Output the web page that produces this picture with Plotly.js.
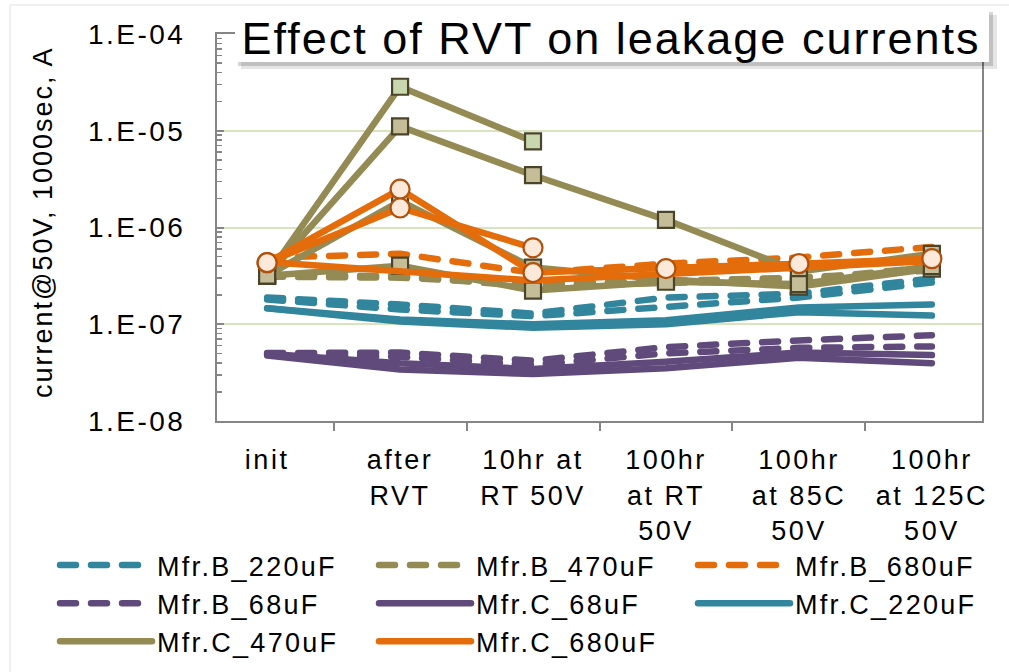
<!DOCTYPE html>
<html>
<head>
<meta charset="utf-8">
<script src="https://cdn.plot.ly/plotly-3.0.1.min.js"></script>
<style>
  html, body { margin: 0; padding: 0; background: #ffffff; }
  #chart { width: 1009px; height: 672px; }
  .js-line, .legendlines path { stroke-linecap: round; stroke-linejoin: round; }
  .gtitle { letter-spacing: 2px; }
  .xtick text, .ytick text { letter-spacing: 2.5px; }
  .legendtext { letter-spacing: 2.3px; }
  .annotation-text { letter-spacing: 2px; }
</style>
</head>
<body>
<div id="chart"></div>
<script>
// ---------- data ----------
const categories = ["init", "after<br>RVT", "10hr at<br>RT 50V", "100hr<br>at RT<br>50V", "100hr<br>at 85C<br>50V", "100hr<br>at 125C<br>50V"];
const yTickVals = [1e-8, 1e-7, 1e-6, 1e-5, 1e-4];
const yTickText = ["1.E-08", "1.E-07", "1.E-06", "1.E-05", "1.E-04"];

// Mfr.B_220uF (dashed)
const B220_1 = [1.89e-7, 1.60e-7, 1.29e-7, 1.89e-7, 2.07e-7, 2.98e-7];
const B220_2 = [1.80e-7, 1.42e-7, 1.21e-7, 1.49e-7, 1.89e-7, 2.70e-7];
// Mfr.B_470uF (dashed)
const B470_1 = [3.10e-7, 3.03e-7, 2.60e-7, 2.83e-7, 3.03e-7, 3.60e-7];
const B470_2 = [3.25e-7, 3.15e-7, 2.45e-7, 2.70e-7, 2.90e-7, 3.90e-7];
// Mfr.B_680uF (dashed)
const B680_1 = [4.87e-7, 5.35e-7, 3.40e-7, 4.23e-7, 4.90e-7, 6.30e-7];
// Mfr.B_68uF (dashed)
const B68_1 = [5.03e-8, 5.10e-8, 4.20e-8, 5.80e-8, 6.80e-8, 7.70e-8];
const B68_2 = [4.90e-8, 4.60e-8, 3.80e-8, 5.00e-8, 5.70e-8, 5.90e-8];
// Mfr.C_68uF (solid)
const C68_1 = [4.95e-8, 3.96e-8, 3.44e-8, 4.10e-8, 5.10e-8, 4.80e-8];
const C68_2 = [4.75e-8, 3.40e-8, 3.06e-8, 3.50e-8, 4.50e-8, 3.96e-8];
// Mfr.C_220uF (solid)
const C220_1 = [1.46e-7, 1.12e-7, 1.00e-7, 1.10e-7, 1.49e-7, 1.60e-7];
const C220_2 = [1.46e-7, 1.07e-7, 9.20e-8, 1.00e-7, 1.33e-7, 1.23e-7];
// Mfr.C_470uF (solid, square markers)
const C470_1 = [3.18e-7, 2.85e-5, 7.76e-6, null, null, null];
const C470_2 = [3.18e-7, 1.11e-5, 3.47e-6, 1.20e-6, 3.50e-7, 5.35e-7];
const C470_3 = [3.18e-7, 1.88e-6, 3.85e-7, 2.90e-7, 2.45e-7, 3.76e-7];
const C470_4 = [3.18e-7, 4.03e-7, 2.23e-7, 2.75e-7, 2.60e-7, 4.00e-7];
// Mfr.C_680uF (solid, circle markers)
const C680_1 = [4.33e-7, 2.49e-6, 3.42e-7, 3.76e-7, 4.23e-7, 4.76e-7];
const C680_2 = [4.33e-7, 1.59e-6, 6.17e-7, null, null, null];
const C680_3 = [4.40e-7, null, 2.83e-7, 3.30e-7, 3.90e-7, 4.50e-7];

// ---------- styles ----------
const TEAL = "#31859C", OLIVE = "#948A54", ORANGE = "#E46C0A", PURPLE = "#604A7B";
const DASH = "16px,15px";
const LW = 6.5;
const FONT = "Liberation Sans, Arial, sans-serif";

function line(y, name, color, dash, show) {
  return {
    type: "scatter", mode: "lines", x: categories, y: y, name: name,
    showlegend: !!show, connectgaps: true,
    line: { color: color, width: LW, dash: dash || "solid" },
    hoverinfo: "skip"
  };
}
function marks(y, symbol, fill, edge, size) {
  return {
    type: "scatter", mode: "markers", x: categories, y: y, showlegend: false,
    marker: { symbol: symbol, size: size, color: fill, line: { color: edge, width: 2.2 } },
    hoverinfo: "skip"
  };
}

const SQ_EDGE = "#4A452A", SQ_TAN = "#C4BD97", SQ_GREEN = "#C9D7AE";
const CI_EDGE = "#B0500C", CI_FILL = "#FDE9D9";

const traces = [
  line(B220_1, "Mfr.B_220uF", TEAL, DASH, true),
  line(B220_2, "Mfr.B_220uF", TEAL, DASH),
  line(B470_1, "Mfr.B_470uF", OLIVE, DASH, true),
  line(B470_2, "Mfr.B_470uF", OLIVE, DASH),
  line(B680_1, "Mfr.B_680uF", ORANGE, DASH, true),
  line(B68_1, "Mfr.B_68uF", PURPLE, DASH, true),
  line(B68_2, "Mfr.B_68uF", PURPLE, DASH),
  line(C68_1, "Mfr.C_68uF", PURPLE, "solid", true),
  line(C68_2, "Mfr.C_68uF", PURPLE, "solid"),
  line(C220_1, "Mfr.C_220uF", TEAL, "solid", true),
  line(C220_2, "Mfr.C_220uF", TEAL, "solid"),
  line(C470_1, "Mfr.C_470uF", OLIVE, "solid", true),
  marks(C470_1, "square", SQ_GREEN, SQ_EDGE, 16),
  line(C470_2, "Mfr.C_470uF", OLIVE, "solid"),
  marks(C470_2, "square", SQ_TAN, SQ_EDGE, 16),
  line(C470_3, "Mfr.C_470uF", OLIVE, "solid"),
  marks(C470_3, "square", SQ_TAN, SQ_EDGE, 16),
  line(C470_4, "Mfr.C_470uF", OLIVE, "solid"),
  marks(C470_4, "square", SQ_TAN, SQ_EDGE, 16),
  line(C680_3, "Mfr.C_680uF", ORANGE, "solid"),
  line(C680_1, "Mfr.C_680uF", ORANGE, "solid", true),
  marks(C680_1, "circle", CI_FILL, CI_EDGE, 19),
  line(C680_2, "Mfr.C_680uF", ORANGE, "solid"),
  marks(C680_2, "circle", CI_FILL, CI_EDGE, 19)
];

const L = 217, R = 982, T = 34, B = 421;
const px = v => (v - L) / (R - L);
const py = v => (B - v) / (B - T);

const layout = {
  width: 1009, height: 672,
  margin: { l: L, r: 1009 - R, t: T, b: 672 - B, pad: 0, autoexpand: false },
  paper_bgcolor: "#ffffff", plot_bgcolor: "#ffffff",
  font: { family: FONT, color: "#000000", size: 26 },
  showlegend: true,
  title: {
    text: "Effect of RVT on leakage currents",
    font: { family: FONT, size: 45, color: "#000000" },
    x: 611 / 1009, xanchor: "center", xref: "container",
    y: 1 - 38 / 672, yanchor: "middle", yref: "container"
  },
  xaxis: {
    type: "category", categoryorder: "array", categoryarray: categories,
    showline: true, linecolor: "#868686", linewidth: 2, mirror: true,
    ticks: "outside", tickson: "boundaries", ticklen: 8, tickwidth: 2, tickcolor: "#868686",
    showgrid: false, zeroline: false,
    tickfont: { family: FONT, size: 27, color: "#000000" },
    ticklabelstandoff: 14
  },
  yaxis: {
    type: "log", range: [-8, -4],
    tickmode: "array", tickvals: yTickVals, ticktext: yTickText,
    showline: true, linecolor: "#868686", linewidth: 2, mirror: true,
    ticks: "inside", ticklen: 7, tickwidth: 2, tickcolor: "#868686",
    showgrid: true, gridcolor: "#D7E4BD", gridwidth: 2, zeroline: false,
    minor: { ticks: "inside", ticklen: 5, tickwidth: 1.5, tickcolor: "#868686", showgrid: false, dtick: "D1" },
    tickfont: { family: FONT, size: 28, color: "#000000" },
    ticklabelstandoff: 24
  },
  legend: {
    orientation: "h", xref: "paper", yref: "paper",
    x: px(55), xanchor: "left", y: py(541), yanchor: "top",
    entrywidth: 212, entrywidthmode: "pixels", itemwidth: 92,
    font: { family: FONT, size: 27, color: "#000000" },
    bgcolor: "rgba(0,0,0,0)", traceorder: "normal"
  },
  shapes: [
    { type: "line", xref: "paper", yref: "paper", layer: "below",
      x0: px(10), x1: px(10), y0: py(5), y1: py(700), line: { color: "#EBEBEB", width: 1.5 } },
    { type: "line", xref: "paper", yref: "paper", layer: "below",
      x0: px(10), x1: px(1012), y0: py(5), y1: py(5), line: { color: "#EBEBEB", width: 1.5 } },
    { type: "rect", xref: "paper", yref: "paper", layer: "above",
      x0: px(241), x1: px(997), y0: py(69), y1: py(15),
      fillcolor: "rgba(0,0,0,0.10)", line: { width: 0 } },
    { type: "rect", xref: "paper", yref: "paper", layer: "above",
      x0: px(238), x1: px(993), y0: py(66), y1: py(12),
      fillcolor: "rgba(0,0,0,0.16)", line: { width: 0 } },
    { type: "rect", xref: "paper", yref: "paper", layer: "above",
      x0: px(235), x1: px(989), y0: py(62), y1: py(10),
      fillcolor: "#ffffff", line: { width: 0 } }
  ],
  annotations: [
    { text: "current@50V, 1000sec, A", xref: "paper", yref: "paper",
      x: px(43), y: py(222), xanchor: "center", yanchor: "middle",
      textangle: -90, showarrow: false,
      font: { family: FONT, size: 27, color: "#000000" } }
  ]
};

Plotly.newPlot("chart", traces, layout, { staticPlot: true, displayModeBar: false });
</script>
</body>
</html>
